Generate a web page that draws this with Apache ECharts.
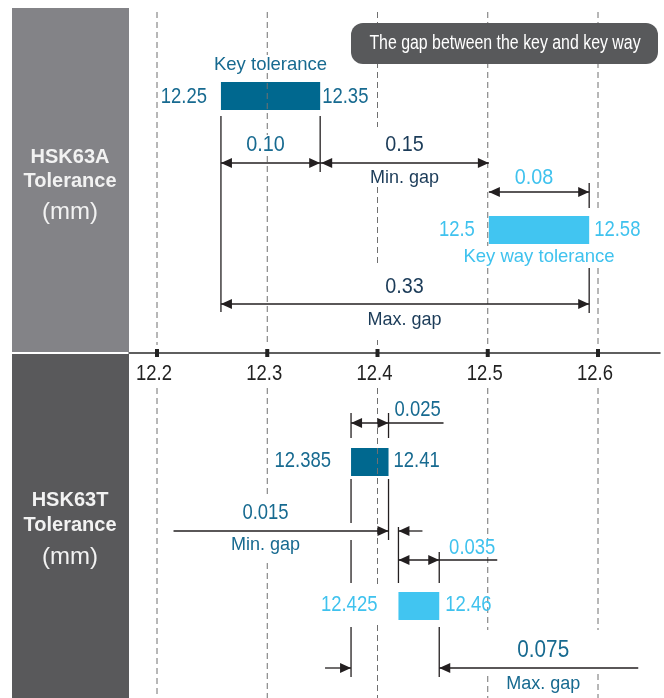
<!DOCTYPE html>
<html><head><meta charset="utf-8">
<script src="https://cdn.jsdelivr.net/npm/echarts@6/dist/echarts.min.js"></script>
<style>html,body{margin:0;padding:0;background:#fff}#c{width:664px;height:698px}</style>
</head><body><div id="c"></div>
<script>
// ---------- data ----------
const ticks = [12.2, 12.3, 12.4, 12.5, 12.6];
const tickLabels = ['12.2', '12.3', '12.4', '12.5', '12.6'];
// bar extents as drawn in the (schematic) picture
const keyA = [12.258, 12.348];
const wayA = [12.501, 12.592];
const keyT = [12.376, 12.410];
const wayT = [12.419, 12.456];
// printed values
const keyALabels = ['12.25', '12.35'];
const wayALabels = ['12.5', '12.58'];
const keyTLabels = ['12.385', '12.41'];
const wayTLabels = ['12.425', '12.46'];
const gapALabels = ['0.10', '0.15', '0.08', '0.33'];
const gapTLabels = ['0.025', '0.015', '0.035', '0.075'];
const panelTitles = ['HSK63A', 'HSK63T'];
const textLabels = ['Key tolerance', 'Key way tolerance', 'Min. gap', 'Max. gap', 'Tolerance', '(mm)', 'The gap between the key and key way'];

// ---------- styles ----------
const REG = "'Liberation Sans',Arial,sans-serif";
const SX = 0.84;  // condensed look for numbers
const SX2 = 0.9;  // gap values
const C = {
  dbar: '#00688f', dtxt: '#176a90', navy: '#1b3b58',
  lbar: '#41c5f1', ltxt: '#3fc2ee', line: '#231f20', grid: '#707070',
  panelA: '#838387', panelT: '#59595b', box: '#58595b'
};
const PX = 1102.5; // px per unit on x
// gridline visible segments (y ranges) per tick
const gridSegs = [
  [[12, 345], [388, 698]],
  [[12, 55], [73, 135], [156, 345], [388, 497], [563, 698]],
  [[12, 127], [187, 263], [340, 345], [388, 585], [625, 698]],
  [[12, 246], [268, 345], [388, 540], [557, 630], [676, 698]],
  [[12, 208], [268, 345], [388, 630], [674, 698]]
];

function renderItem(params, api) {
  const X = v => api.coord([v, 0])[0];
  const els = [];
  const line = (x1, y1, x2, y2) => els.push({type: 'line', shape: {x1, y1, x2, y2}, style: {stroke: C.line, lineWidth: 1.3}});
  const rect = (x, y, w, h, fill) => els.push({type: 'rect', shape: {x, y, width: w, height: h}, style: {fill}});
  const head = (tx, y, dir) => els.push({type: 'polygon', shape: {points: [[tx, y], [tx - dir * 11, y - 5], [tx - dir * 11, y + 5]]}, style: {fill: C.line}});
  const text = (x, y, str, color, size, sx, align) => els.push({
    type: 'text', x, y, scaleX: sx,
    style: {text: str, fill: color, fontSize: size, fontFamily: REG, align: align || 'center', verticalAlign: 'middle', textAlign: align || 'center', textVerticalAlign: 'middle'}
  });
  const dim = (a, b, y) => { line(a, y, b, y); head(a, y, -1); head(b, y, 1); };

  // bars
  rect(X(keyA[0]), 82, X(keyA[1]) - X(keyA[0]), 28, C.dbar);
  rect(X(wayA[0]), 216, X(wayA[1]) - X(wayA[0]), 28, C.lbar);
  rect(X(keyT[0]), 448, X(keyT[1]) - X(keyT[0]), 28, C.dbar);
  rect(X(wayT[0]), 592, X(wayT[1]) - X(wayT[0]), 28, C.lbar);

  // dashed gridlines, tick marks and tick labels
  ticks.forEach((t, i) => {
    gridSegs[i].forEach(s => els.push({type: 'line', shape: {x1: X(t), y1: s[0], x2: X(t), y2: s[1]},
      style: {stroke: C.grid, lineWidth: 1, lineDash: [6, 4]}}));
    rect(X(t) - 2, 349, 4, 8, '#222');
    text(X(t) - 3, 374, tickLabels[i], '#222', 22.5, 0.82);
  });

  // ---- HSK63A ----
  const ka0 = X(keyA[0]), ka1 = X(keyA[1]), wa0 = X(wayA[0]), wa1 = X(wayA[1]);
  text((ka0 + ka1) / 2, 65, textLabels[0], C.dtxt, 18.5, 1);
  text(ka0 - 14, 97, keyALabels[0], C.dtxt, 22, SX, 'right');
  text(ka1 + 2, 97, keyALabels[1], C.dtxt, 22, SX, 'left');
  line(ka0, 116, ka0, 312);
  line(ka1, 116, ka1, 172);
  dim(ka0, ka1, 163);
  text((ka0 + ka1) / 2 - 5, 145, gapALabels[0], C.dtxt, 22, SX2);
  line(ka1, 163, wa0, 163); head(ka1 + 1, 163, -1); head(wa0, 163, 1);
  text((ka1 + wa0) / 2, 145, gapALabels[1], C.navy, 22, SX2);
  text((ka1 + wa0) / 2, 178, textLabels[2], C.navy, 18, 1);
  text((wa0 + wa1) / 2 - 5, 178, gapALabels[2], C.ltxt, 22, SX2);
  line(wa1, 183, wa1, 208);
  dim(wa0, wa1, 192);
  text(wa0 - 14, 230, wayALabels[0], C.ltxt, 22, SX, 'right');
  text(wa1 + 5, 230, wayALabels[1], C.ltxt, 22, SX, 'left');
  text((wa0 + wa1) / 2, 257, textLabels[1], C.ltxt, 18.5, 1);
  line(wa1, 268, wa1, 313);
  dim(ka0, wa1, 304);
  text((ka1 + wa0) / 2, 287, gapALabels[3], C.navy, 22, SX2);
  text((ka1 + wa0) / 2, 320, textLabels[3], C.navy, 18, 1);

  // ---- HSK63T ----
  const kt0 = X(keyT[0]), kt1 = X(keyT[1]), wt0 = X(wayT[0]), wt1 = X(wayT[1]);
  [[413, 438], [479, 523], [540, 583], [627, 677]].forEach(s => line(kt0, s[0], kt0, s[1]));
  [[413, 438], [479, 540]].forEach(s => line(kt1, s[0], kt1, s[1]));
  line(wt0, 527, wt0, 583);
  [[552, 583], [627, 677]].forEach(s => line(wt1, s[0], wt1, s[1]));
  dim(kt0, kt1, 423); line(kt1, 423, kt1 + 55, 423);
  text(kt1 + 6, 410, gapTLabels[0], C.dtxt, 22, SX, 'left');
  text(kt0 - 20, 461, keyTLabels[0], C.dtxt, 22, SX, 'right');
  text(kt1 + 5, 461, keyTLabels[1], C.dtxt, 22, SX, 'left');
  line(kt1 - 215, 531, kt1, 531); head(kt1, 531, 1);
  line(wt0, 531, wt0 + 24, 531); head(wt0, 531, -1);
  text(kt1 - 123, 513, gapTLabels[1], C.dtxt, 22, SX);
  text(kt1 - 123, 545, textLabels[2], C.dtxt, 18, 1);
  dim(wt0, wt1, 560); line(wt1, 560, wt1 + 58, 560);
  text(wt1 + 33, 548, gapTLabels[2], C.ltxt, 22, SX);
  text(wt0 - 21, 605, wayTLabels[0], C.ltxt, 22, SX, 'right');
  text(wt1 + 6, 605, wayTLabels[1], C.ltxt, 22, SX, 'left');
  line(kt0 - 26, 668, kt0, 668); head(kt0, 668, 1);
  line(wt1, 668, wt1 + 199, 668); head(wt1, 668, -1);
  text(wt1 + 104, 651, gapTLabels[3], C.dtxt, 23, SX2);
  text(wt1 + 104, 684, textLabels[3], C.dtxt, 18, 1);

  return {type: 'group', children: els};
}

const chart = echarts.init(document.getElementById('c'), null, {renderer: 'canvas'});
chart.setOption({
  animation: false,
  backgroundColor: '#fff',
  grid: {left: 129, right: 4, top: 0, height: 353},
  xAxis: {
    type: 'value', min: 12.2 - 28 / PX, max: 12.6 + 62 / PX,
    axisLine: {show: true, onZero: false, lineStyle: {color: '#2b2b2b', width: 1.5}},
    axisTick: {show: false}, splitLine: {show: false}, axisLabel: {show: false}
  },
  yAxis: {type: 'value', min: 0, max: 353, inverse: true, show: false},
  graphic: [
    {type: 'rect', shape: {x: 12, y: 8, width: 117, height: 344}, style: {fill: C.panelA}},
    {type: 'rect', shape: {x: 12, y: 354, width: 117, height: 344}, style: {fill: C.panelT}},
    {type: 'text', x: 70, y: 157, style: {text: panelTitles[0], fill: '#f2f2f2', font: "bold 20px 'Liberation Sans',Arial", align: 'center', verticalAlign: 'middle'}},
    {type: 'text', x: 70, y: 181, style: {text: textLabels[4], fill: '#f2f2f2', font: "bold 20px 'Liberation Sans',Arial", align: 'center', verticalAlign: 'middle'}},
    {type: 'text', x: 70, y: 212, style: {text: textLabels[5], fill: '#f2f2f2', font: "24px 'Liberation Sans',Arial", align: 'center', verticalAlign: 'middle'}},
    {type: 'text', x: 70, y: 500, style: {text: panelTitles[1], fill: '#f2f2f2', font: "bold 20px 'Liberation Sans',Arial", align: 'center', verticalAlign: 'middle'}},
    {type: 'text', x: 70, y: 525, style: {text: textLabels[4], fill: '#f2f2f2', font: "bold 20px 'Liberation Sans',Arial", align: 'center', verticalAlign: 'middle'}},
    {type: 'text', x: 70, y: 557, style: {text: textLabels[5], fill: '#f2f2f2', font: "24px 'Liberation Sans',Arial", align: 'center', verticalAlign: 'middle'}},
    {type: 'rect', z: 100, shape: {x: 351, y: 23, width: 307, height: 41, r: 12}, style: {fill: C.box}},
    {type: 'text', z: 101, x: 505, y: 44, scaleX: 0.815, style: {text: textLabels[6], fill: '#ffffff', font: "19.5px 'Liberation Sans',Arial", align: 'center', verticalAlign: 'middle'}}
  ],
  series: [{
    type: 'custom', renderItem, silent: true, clip: false,
    data: [[ticks[0], 0]]
  }]
});
</script>
</body></html>
